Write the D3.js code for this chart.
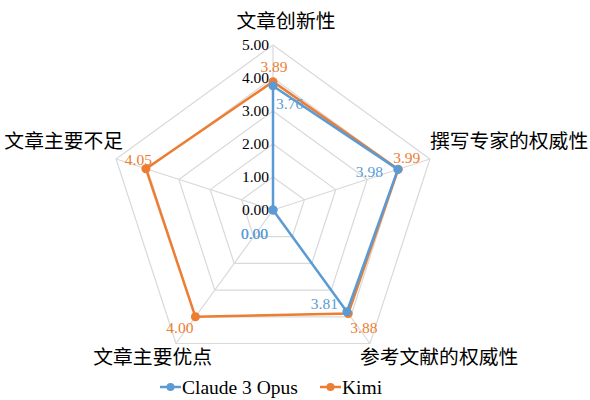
<!DOCTYPE html>
<html><head><meta charset="utf-8">
<script src="https://cdn.jsdelivr.net/npm/d3@7"></script>
<style>
body{margin:0;background:#fff;}
</style></head>
<body><svg id="c" width="590" height="400"></svg>
<script>
const categories = ["文章创新性","撰写专家的权威性","参考文献的权威性","文章主要优点","文章主要不足"];
const seriesNames = ["Claude 3 Opus","Kimi"];
const claudeValues = [3.76, 3.98, 3.81, 0.00, 0.00];
const kimiValues = [3.89, 3.99, 3.88, 4.00, 4.05];
const tickValues = [0,1,2,3,4,5];
const colors = ["#5B9BD5","#ED7D31"];

const FONT = "Liberation Serif";
const cx = 273, cy = 210, R = 165;
const svg = d3.select("#c");
const r = d3.scaleLinear().domain([0,5]).range([0,R]);
const ang = i => -Math.PI/2 + i*2*Math.PI/categories.length;
const pt = (i,v) => [cx + r(v)*Math.cos(ang(i)), cy + r(v)*Math.sin(ang(i))];

// grid
tickValues.slice(1).forEach(t=>{
  svg.append("path")
    .attr("d", d3.line()(categories.map((c,i)=>pt(i,t)).concat([pt(0,t)])))
    .attr("fill","none").attr("stroke","#D9D9D9").attr("stroke-width",1.2);
});
// spokes
categories.forEach((c,i)=>{
  const [x,y]=pt(i,5);
  svg.append("line").attr("x1",cx).attr("y1",cy).attr("x2",x).attr("y2",y)
    .attr("stroke","#D9D9D9").attr("stroke-width",1.2);
});
// tick labels
tickValues.forEach(t=>{
  svg.append("text").attr("x",cx-4).attr("y",cy-r(t)+5)
    .attr("text-anchor","end").attr("font-size",15.5).attr("fill","#000")
    .attr("font-family",FONT)
    .text(d3.format(".2f")(t));
});
// category labels
const catOff = [[13,-17,"middle"],[0,-11,"start"],[-10,20.5,"start"],[36,20.5,"end"],[7,-11,"end"]];
categories.forEach((c,i)=>{
  const [x,y]=pt(i,5);
  svg.append("text").attr("x",x+catOff[i][0]).attr("y",y+catOff[i][1])
    .attr("text-anchor",catOff[i][2]).attr("font-size",19.8).attr("fill","#000")
    .attr("font-family","Noto Sans CJK SC").text(c);
});
// series
const allSeries=[claudeValues,kimiValues];
const labelOff = [
  [[3,23,"start"],[-15,8,"end"],[-9,-3,"end"],[-5,29,"end"],[-5,29,"end"]],
  [[1,-10,"middle"],[-5,-6,"start"],[2,19,"start"],[-2,16,"end"],[6,-4,"end"]]
];
[1,0].forEach(s=>{
  const vals=allSeries[s];
  const pts=vals.map((v,i)=>pt(i,v));
  svg.append("path").attr("d",d3.line()(pts.concat([pts[0]])))
    .attr("fill","none").attr("stroke",colors[s]).attr("stroke-width",2.5).attr("stroke-linejoin","round");
  pts.forEach(p=>svg.append("circle").attr("cx",p[0]).attr("cy",p[1]).attr("r",4.5).attr("fill",colors[s]));
});
[0,1].forEach(s=>{
  allSeries[s].forEach((v,i)=>{
    const p=pt(i,v), o=labelOff[s][i];
    svg.append("text").attr("x",p[0]+o[0]).attr("y",p[1]+o[1]).attr("text-anchor",o[2])
      .attr("font-size",15.5).attr("fill",colors[s]).attr("font-family",FONT).text(d3.format(".2f")(v));
  });
});
// legend
const legX=[160,320], legY=387;
seriesNames.forEach((n,s)=>{
  const g=svg.append("g");
  g.append("line").attr("x1",legX[s]).attr("x2",legX[s]+21).attr("y1",legY).attr("y2",legY)
    .attr("stroke",colors[s]).attr("stroke-width",2.5);
  g.append("circle").attr("cx",legX[s]+10.5).attr("cy",legY).attr("r",4).attr("fill",colors[s]);
  g.append("text").attr("x",legX[s]+22).attr("y",legY+6.5).attr("font-size",19.5).attr("fill","#000")
    .attr("font-family",FONT).text(n);
});
</script></body></html>
